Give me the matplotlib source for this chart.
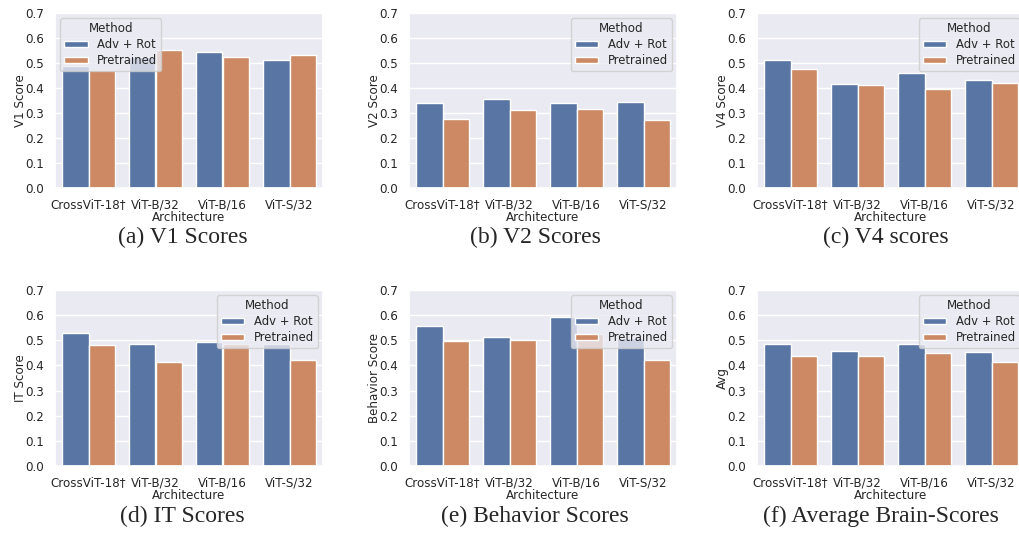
import matplotlib
matplotlib.use("Agg")
import matplotlib.pyplot as plt
import numpy as np
import pandas as pd
import seaborn as sns

archs = ["CrossViT-18\u2020", "ViT-B/32", "ViT-B/16", "ViT-S/32"]
methods = ["Adv + Rot", "Pretrained"]

v1_adv = [0.490, 0.523, 0.543, 0.511]
v1_pre = [0.473, 0.553, 0.523, 0.532]
v2_adv = [0.340, 0.357, 0.339, 0.345]
v2_pre = [0.275, 0.312, 0.317, 0.271]
v4_adv = [0.513, 0.416, 0.461, 0.433]
v4_pre = [0.477, 0.412, 0.397, 0.421]
it_adv = [0.527, 0.485, 0.493, 0.485]
it_pre = [0.481, 0.414, 0.485, 0.420]
beh_adv = [0.558, 0.513, 0.594, 0.510]
beh_pre = [0.497, 0.502, 0.525, 0.421]
avg_adv = [0.485, 0.457, 0.485, 0.454]
avg_pre = [0.439, 0.439, 0.448, 0.412]

panels = [
    ("V1 Score", v1_adv, v1_pre, "(a) V1 Scores", "upper left"),
    ("V2 Score", v2_adv, v2_pre, "(b) V2 Scores", "upper right"),
    ("V4 Score", v4_adv, v4_pre, "(c) V4 scores", "upper right"),
    ("IT Score", it_adv, it_pre, "(d) IT Scores", "upper right"),
    ("Behavior Score", beh_adv, beh_pre, "(e) Behavior Scores", "upper right"),
    ("Avg", avg_adv, avg_pre, "(f) Average Brain-Scores", "upper right"),
]

sns.set_theme(style="darkgrid")
fs = 8.6
plt.rcParams.update({
    "font.size": fs, "axes.labelsize": fs, "xtick.labelsize": fs,
    "ytick.labelsize": fs, "legend.fontsize": 8.4, "legend.title_fontsize": 8.6,
})

W, H = 1019, 535
fig = plt.figure(figsize=(W / 100, H / 100), dpi=100)

# pixel boxes of each axes
lefts = [55, 409, 757]
width = 268
rows = [(13, 188), (290, 466)]
cap_x = [183, 535, 886, 182, 535, 881]
cap_y = [237, 516]

for i, (ylab, adv, pre, cap, loc) in enumerate(panels):
    r, c = divmod(i, 3)
    top, bot = rows[r]
    ax = fig.add_axes([lefts[c] / W, 1 - bot / H, width / W, (bot - top) / H])
    df = pd.DataFrame({
        "Architecture": archs * 2,
        ylab: adv + pre,
        "Method": [methods[0]] * 4 + [methods[1]] * 4,
    })
    sns.barplot(data=df, x="Architecture", y=ylab, hue="Method", ax=ax,
                hue_order=methods, palette=["#4C72B0", "#DD8452"],
                saturation=0.75, edgecolor="white", linewidth=1)
    ax.set_ylim(0, 0.7)
    ax.set_yticks(np.arange(0, 0.71, 0.1))
    ax.set_yticklabels([f"{v:.1f}" for v in np.arange(0, 0.71, 0.1)])
    ax.xaxis.labelpad = 0
    ax.yaxis.set_label_coords(-0.105, 0.5)
    ax.tick_params(axis="x", pad=1.5)
    ax.tick_params(axis="y", pad=2)
    ax.legend(title="Method", loc=loc, labelspacing=0.25, borderpad=0.35,
              handleheight=0.5, handlelength=2.0, handletextpad=0.8,
              borderaxespad=0.45)
    fig.text(cap_x[i] / W, 1 - cap_y[r] / H, cap, ha="center", va="center",
             family="Liberation Serif", fontsize=17)

fig.savefig("out.png", dpi=100)
